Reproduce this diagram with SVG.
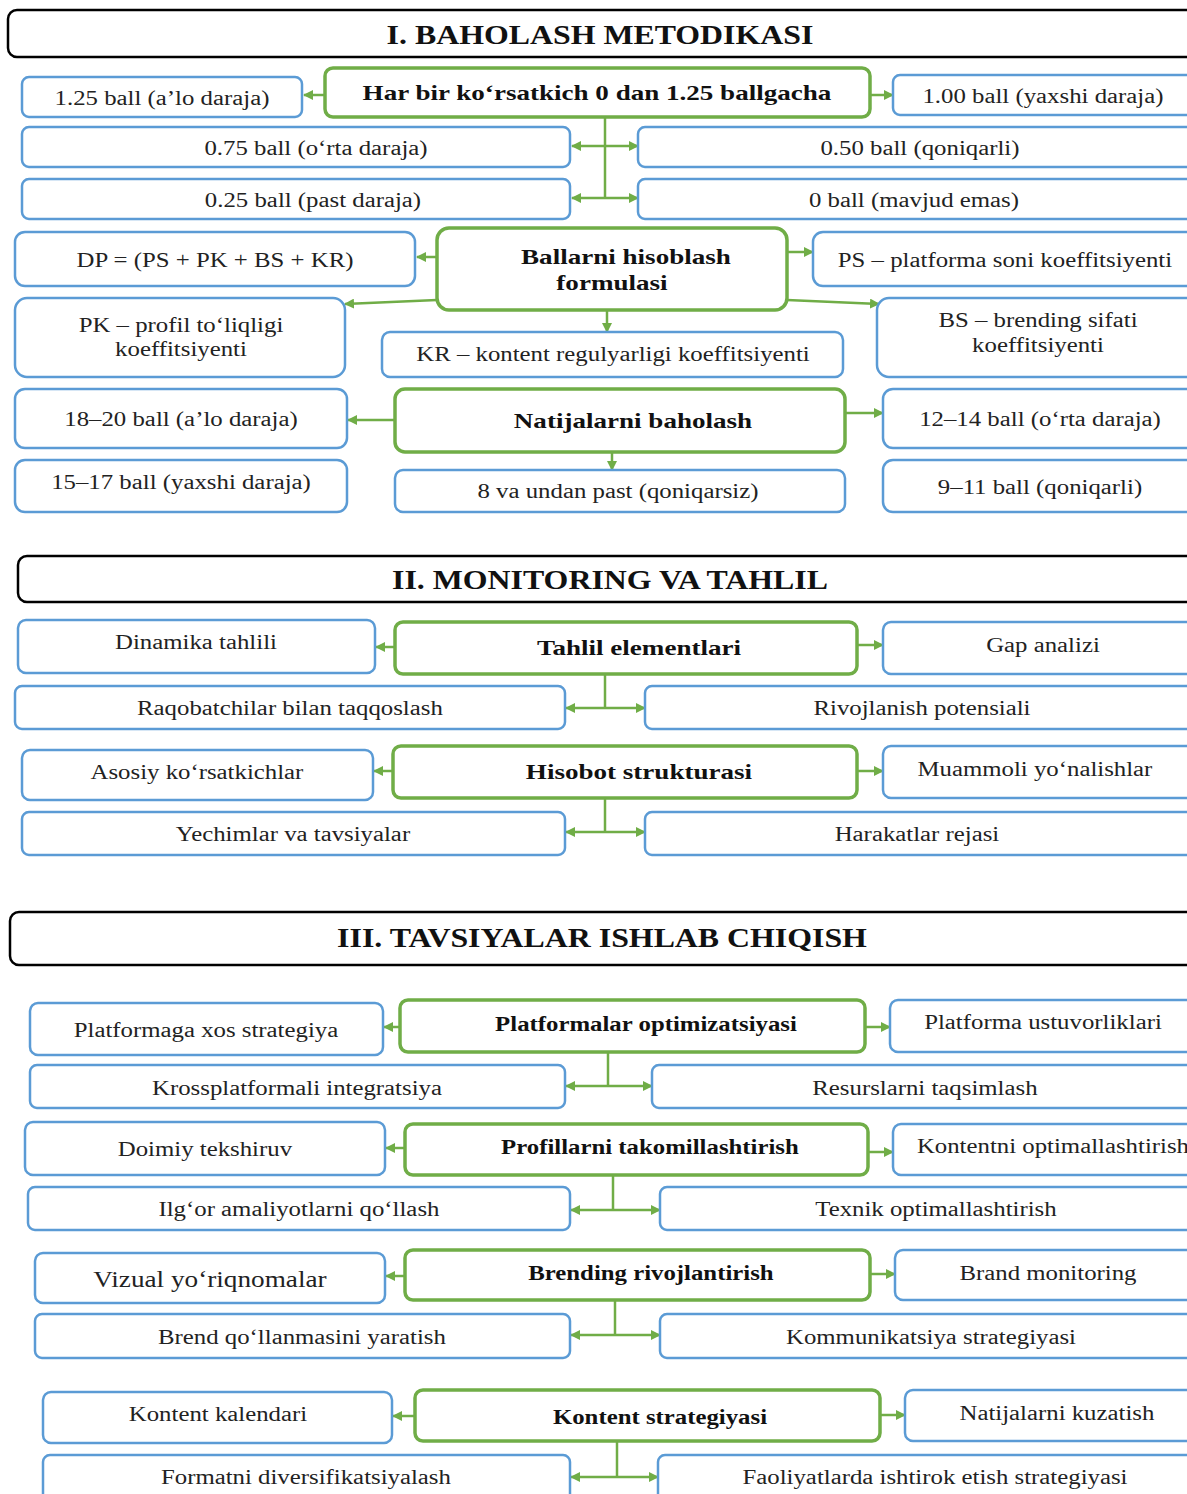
<svg xmlns="http://www.w3.org/2000/svg" width="1187" height="1494" viewBox="0 0 1187 1494">
<style>
.t{fill:#fff;stroke:#000;stroke-width:2.5}
.b{fill:#fff;stroke:#5B9BD5;stroke-width:2.5}
.g{fill:#fff;stroke:#70AD47;stroke-width:3.5}
.c{fill:none;stroke:#70AD47;stroke-width:2.5}
text{font-family:"Liberation Serif","DejaVu Serif",serif;fill:#222;text-anchor:middle;dominant-baseline:central;transform-box:fill-box;transform-origin:center}
.tt{font-size:27px;font-weight:bold;fill:#111;transform:scaleX(1.18)}
.n{font-size:20.5px;transform:scaleX(1.21)}
.h{font-size:22px;font-weight:bold;fill:#111;transform:scaleX(1.23)}
.h3{font-size:20px;font-weight:bold;fill:#111;transform:scaleX(1.24)}
.big{font-size:22.5px}
</style>
<defs>
<marker id="a" markerUnits="userSpaceOnUse" markerWidth="10" markerHeight="10" viewBox="0 0 10 10" refX="9" refY="5" orient="auto-start-reverse"><path d="M0,0 L10,5 L0,10 z" fill="#70AD47"/></marker>
</defs>
<g id="connectors">
<path class="c" d="M325,95 H304" marker-end="url(#a)"/>
<path class="c" d="M870,95 H893" marker-end="url(#a)"/>
<path class="c" d="M605,117 V198"/>
<path class="c" d="M572,146 H638" marker-start="url(#a)" marker-end="url(#a)"/>
<path class="c" d="M572,198 H638" marker-start="url(#a)" marker-end="url(#a)"/>
<path class="c" d="M437,257 H417" marker-end="url(#a)"/>
<path class="c" d="M787,252 H813" marker-end="url(#a)"/>
<path class="c" d="M437,300 L345,304" marker-end="url(#a)"/>
<path class="c" d="M787,300 L879,304" marker-end="url(#a)"/>
<path class="c" d="M607,310 V332" marker-end="url(#a)"/>
<path class="c" d="M395,420 H348" marker-end="url(#a)"/>
<path class="c" d="M845,413 H883" marker-end="url(#a)"/>
<path class="c" d="M612,452 V470" marker-end="url(#a)"/>
<path class="c" d="M395,647 H376" marker-end="url(#a)"/>
<path class="c" d="M857,645 H883" marker-end="url(#a)"/>
<path class="c" d="M605,674 V708"/>
<path class="c" d="M566,708 H645" marker-start="url(#a)" marker-end="url(#a)"/>
<path class="c" d="M393,771 H374" marker-end="url(#a)"/>
<path class="c" d="M857,771 H883" marker-end="url(#a)"/>
<path class="c" d="M605,798 V832"/>
<path class="c" d="M566,832 H645" marker-start="url(#a)" marker-end="url(#a)"/>
<path class="c" d="M400,1027 H384" marker-end="url(#a)"/>
<path class="c" d="M865,1027 H890" marker-end="url(#a)"/>
<path class="c" d="M608,1052 V1086"/>
<path class="c" d="M566,1086 H652" marker-start="url(#a)" marker-end="url(#a)"/>
<path class="c" d="M405,1148 H386" marker-end="url(#a)"/>
<path class="c" d="M868,1152 H893" marker-end="url(#a)"/>
<path class="c" d="M613,1175 V1210"/>
<path class="c" d="M571,1210 H660" marker-start="url(#a)" marker-end="url(#a)"/>
<path class="c" d="M405,1276 H386" marker-end="url(#a)"/>
<path class="c" d="M870,1274 H895" marker-end="url(#a)"/>
<path class="c" d="M615,1300 V1335"/>
<path class="c" d="M571,1335 H660" marker-start="url(#a)" marker-end="url(#a)"/>
<path class="c" d="M415,1416 H393" marker-end="url(#a)"/>
<path class="c" d="M880,1415 H905" marker-end="url(#a)"/>
<path class="c" d="M617,1441 V1477"/>
<path class="c" d="M571,1477 H658" marker-start="url(#a)" marker-end="url(#a)"/>
</g>
<g id="title1"><rect class="t" x="8" y="10" width="1200" height="47" rx="9"/><text class="tt" x="600" y="35">I. BAHOLASH METODIKASI</text></g>
<g id="n1"><rect class="b" x="22" y="77" width="280" height="40" rx="7"/><text class="n" x="162" y="98">1.25 ball (a’lo daraja)</text></g>
<g id="n2"><rect class="g" x="325" y="68" width="545" height="49" rx="8"/><text class="h" x="597" y="92">Har bir ko‘rsatkich 0 dan 1.25 ballgacha</text></g>
<g id="n3"><rect class="b" x="893" y="75" width="310" height="40" rx="7"/><text class="n" x="1043" y="96">1.00 ball (yaxshi daraja)</text></g>
<g id="n4"><rect class="b" x="22" y="127" width="548" height="40" rx="7"/><text class="n" x="316" y="148">0.75 ball (o‘rta daraja)</text></g>
<g id="n5"><rect class="b" x="638" y="127" width="565" height="40" rx="7"/><text class="n" x="920" y="148">0.50 ball (qoniqarli)</text></g>
<g id="n6"><rect class="b" x="22" y="179" width="548" height="40" rx="7"/><text class="n" x="313" y="200">0.25 ball (past daraja)</text></g>
<g id="n7"><rect class="b" x="638" y="179" width="565" height="40" rx="7"/><text class="n" x="914" y="200">0 ball (mavjud emas)</text></g>
<g id="n8"><rect class="g" x="437" y="228" width="350" height="82" rx="12"/><text class="h" x="626" y="256">Ballarni hisoblash</text><text class="h" x="612" y="282">formulasi</text></g>
<g id="n9"><rect class="b" x="15" y="232" width="400" height="54" rx="10"/><text class="n" x="215" y="260">DP = (PS + PK + BS + KR)</text></g>
<g id="n10"><rect class="b" x="813" y="232" width="390" height="54" rx="10"/><text class="n" x="1005" y="260">PS – platforma soni koeffitsiyenti</text></g>
<g id="n11"><rect class="b" x="15" y="298" width="330" height="79" rx="12"/><text class="n" x="181" y="325">PK – profil to‘liqligi</text><text class="n" x="181" y="349">koeffitsiyenti</text></g>
<g id="n12"><rect class="b" x="877" y="298" width="326" height="79" rx="12"/><text class="n" x="1038" y="320">BS – brending sifati</text><text class="n" x="1038" y="345">koeffitsiyenti</text></g>
<g id="n13"><rect class="b" x="382" y="332" width="461" height="45" rx="8"/><text class="n" x="613" y="354">KR – kontent regulyarligi koeffitsiyenti</text></g>
<g id="n14"><rect class="g" x="395" y="389" width="450" height="63" rx="10"/><text class="h" x="633" y="420">Natijalarni baholash</text></g>
<g id="n15"><rect class="b" x="15" y="389" width="332" height="59" rx="10"/><text class="n" x="181" y="419">18–20 ball (a’lo daraja)</text></g>
<g id="n16"><rect class="b" x="883" y="389" width="320" height="59" rx="10"/><text class="n" x="1040" y="419">12–14 ball (o‘rta daraja)</text></g>
<g id="n17"><rect class="b" x="15" y="460" width="332" height="52" rx="10"/><text class="n" x="181" y="482">15–17 ball (yaxshi daraja)</text></g>
<g id="n18"><rect class="b" x="395" y="470" width="450" height="42" rx="8"/><text class="n" x="618" y="491">8 va undan past (qoniqarsiz)</text></g>
<g id="n19"><rect class="b" x="883" y="460" width="320" height="52" rx="10"/><text class="n" x="1040" y="487">9–11 ball (qoniqarli)</text></g>

<g id="title2"><rect class="t" x="18" y="556" width="1190" height="46" rx="9"/><text class="tt" x="610" y="580">II. MONITORING VA TAHLIL</text></g>
<g id="m1"><rect class="b" x="18" y="620" width="357" height="53" rx="8"/><text class="n" x="196" y="642">Dinamika tahlili</text></g>
<g id="m2"><rect class="g" x="395" y="622" width="462" height="52" rx="8"/><text class="h" x="639" y="647">Tahlil elementlari</text></g>
<g id="m3"><rect class="b" x="883" y="622" width="320" height="52" rx="8"/><text class="n" x="1043" y="645">Gap analizi</text></g>
<g id="m4"><rect class="b" x="15" y="686" width="550" height="43" rx="7"/><text class="n" x="290" y="708">Raqobatchilar bilan taqqoslash</text></g>
<g id="m5"><rect class="b" x="645" y="686" width="558" height="43" rx="7"/><text class="n" x="922" y="708">Rivojlanish potensiali</text></g>
<g id="m6"><rect class="b" x="22" y="750" width="351" height="50" rx="8"/><text class="n" x="197" y="772">Asosiy ko‘rsatkichlar</text></g>
<g id="m7"><rect class="g" x="393" y="746" width="464" height="52" rx="8"/><text class="h" x="639" y="771">Hisobot strukturasi</text></g>
<g id="m8"><rect class="b" x="883" y="746" width="320" height="52" rx="8"/><text class="n" x="1035" y="769">Muammoli yo‘nalishlar</text></g>
<g id="m9"><rect class="b" x="22" y="812" width="543" height="43" rx="7"/><text class="n" x="293" y="834">Yechimlar va tavsiyalar</text></g>
<g id="m10"><rect class="b" x="645" y="812" width="558" height="43" rx="7"/><text class="n" x="917" y="834">Harakatlar rejasi</text></g>

<g id="title3"><rect class="t" x="10" y="912" width="1198" height="53" rx="9"/><text class="tt" x="602" y="938">III. TAVSIYALAR ISHLAB CHIQISH</text></g>
<g id="r1"><rect class="b" x="30" y="1003" width="353" height="52" rx="8"/><text class="n" x="206" y="1030">Platformaga xos strategiya</text></g>
<g id="r2"><rect class="g" x="400" y="1000" width="465" height="52" rx="8"/><text class="h3" x="646" y="1024">Platformalar optimizatsiyasi</text></g>
<g id="r3"><rect class="b" x="890" y="1000" width="313" height="52" rx="8"/><text class="n" x="1043" y="1022">Platforma ustuvorliklari</text></g>
<g id="r4"><rect class="b" x="30" y="1065" width="535" height="43" rx="7"/><text class="n" x="297" y="1088">Krossplatformali integratsiya</text></g>
<g id="r5"><rect class="b" x="652" y="1065" width="551" height="43" rx="7"/><text class="n" x="925" y="1088">Resurslarni taqsimlash</text></g>
<g id="r6"><rect class="b" x="25" y="1122" width="360" height="53" rx="8"/><text class="n" x="205" y="1149">Doimiy tekshiruv</text></g>
<g id="r7"><rect class="g" x="405" y="1124" width="463" height="51" rx="8"/><text class="h3" x="650" y="1147">Profillarni takomillashtirish</text></g>
<g id="r8"><rect class="b" x="893" y="1124" width="310" height="51" rx="8"/><text class="n" x="1053" y="1146">Kontentni optimallashtirish</text></g>
<g id="r9"><rect class="b" x="28" y="1187" width="542" height="43" rx="7"/><text class="n" x="299" y="1209">Ilg‘or amaliyotlarni qo‘llash</text></g>
<g id="r10"><rect class="b" x="660" y="1187" width="543" height="43" rx="7"/><text class="n" x="936" y="1209">Texnik optimallashtirish</text></g>
<g id="r11"><rect class="b" x="35" y="1253" width="350" height="50" rx="8"/><text class="n big" x="210" y="1279">Vizual yo‘riqnomalar</text></g>
<g id="r12"><rect class="g" x="405" y="1250" width="465" height="50" rx="8"/><text class="h3" x="651" y="1273">Brending rivojlantirish</text></g>
<g id="r13"><rect class="b" x="895" y="1250" width="308" height="50" rx="8"/><text class="n" x="1048" y="1273">Brand monitoring</text></g>
<g id="r14"><rect class="b" x="35" y="1314" width="535" height="44" rx="7"/><text class="n" x="302" y="1337">Brend qo‘llanmasini yaratish</text></g>
<g id="r15"><rect class="b" x="660" y="1314" width="543" height="44" rx="7"/><text class="n" x="931" y="1337">Kommunikatsiya strategiyasi</text></g>
<g id="r16"><rect class="b" x="43" y="1392" width="349" height="51" rx="8"/><text class="n" x="218" y="1414">Kontent kalendari</text></g>
<g id="r17"><rect class="g" x="415" y="1390" width="465" height="51" rx="8"/><text class="h3" x="660" y="1417">Kontent strategiyasi</text></g>
<g id="r18"><rect class="b" x="905" y="1390" width="298" height="51" rx="8"/><text class="n" x="1057" y="1413">Natijalarni kuzatish</text></g>
<g id="r19"><rect class="b" x="43" y="1455" width="527" height="50" rx="7"/><text class="n" x="306" y="1477">Formatni diversifikatsiyalash</text></g>
<g id="r20"><rect class="b" x="658" y="1455" width="545" height="50" rx="7"/><text class="n" x="935" y="1477">Faoliyatlarda ishtirok etish strategiyasi</text></g>
</svg>
